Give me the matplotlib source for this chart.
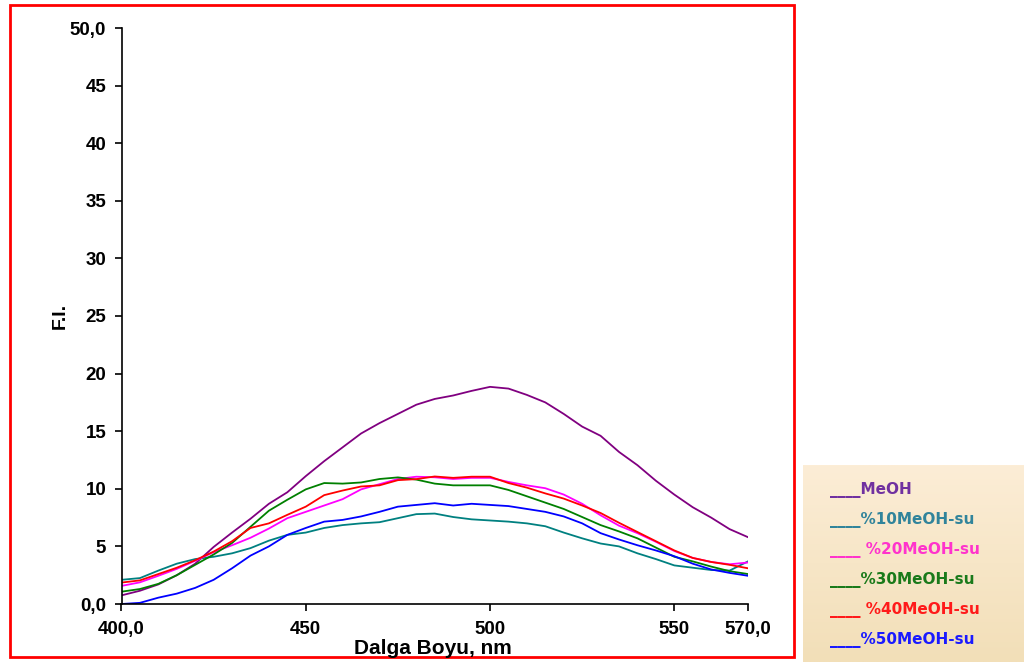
import numpy as np
import matplotlib
matplotlib.use("Agg")
import matplotlib.pyplot as plt
from matplotlib.patches import Rectangle

# Wavelength grid (nm)
wavelength = list(range(400, 571, 5))

meoh = [0.75, 1.15, 1.7, 2.5, 3.5, 4.95, 6.2, 7.4, 8.7, 9.7, 11.1, 12.4, 13.6, 14.8,
        15.7, 16.5, 17.3, 17.8, 18.1, 18.5, 18.85, 18.7, 18.15, 17.5, 16.5, 15.4,
        14.6, 13.2, 12.05, 10.7, 9.5, 8.4, 7.5, 6.5, 5.8]
meoh_su10 = [2.1, 2.25, 2.9, 3.5, 3.9, 4.1, 4.4, 4.85, 5.5, 6.0, 6.2, 6.6, 6.85, 7.0,
             7.1, 7.45, 7.8, 7.85, 7.55, 7.35, 7.25, 7.15, 7.0, 6.75, 6.2, 5.7,
             5.25, 5.0, 4.4, 3.9, 3.35, 3.15, 2.95, 2.9, 3.7]
meoh_su20 = [1.57, 1.88, 2.45, 3.05, 3.75, 4.5, 5.1, 5.75, 6.55, 7.45, 8.0, 8.55, 9.1,
             9.95, 10.4, 10.85, 11.05, 11.0, 10.85, 10.95, 10.95, 10.6, 10.3, 10.05,
             9.5, 8.7, 7.7, 6.8, 6.15, 5.4, 4.6, 4.0, 3.65, 3.45, 3.6]
meoh_su30 = [1.07, 1.3, 1.75, 2.5, 3.4, 4.3, 5.3, 6.7, 8.1, 9.05, 9.95, 10.5, 10.45,
             10.55, 10.85, 10.99, 10.8, 10.45, 10.3, 10.3, 10.3, 9.9, 9.35, 8.8,
             8.25, 7.55, 6.85, 6.3, 5.7, 4.9, 4.1, 3.7, 3.25, 2.85, 2.6]
meoh_su40 = [1.86, 2.05, 2.6, 3.15, 3.8, 4.55, 5.45, 6.6, 7.0, 7.74, 8.45, 9.45, 9.85,
             10.2, 10.3, 10.75, 10.84, 11.07, 10.95, 11.05, 11.05, 10.5, 10.1, 9.6,
             9.15, 8.55, 7.9, 7.05, 6.25, 5.45, 4.65, 4.0, 3.65, 3.4, 3.1]
meoh_su50 = [0.0, 0.1, 0.55, 0.9, 1.4, 2.1, 3.1, 4.2, 5.0, 6.0, 6.6, 7.15, 7.3, 7.6,
             8.0, 8.45, 8.6, 8.75, 8.55, 8.7, 8.6, 8.5, 8.25, 8.0, 7.6, 7.0, 6.15,
             5.6, 5.1, 4.65, 4.15, 3.5, 3.0, 2.7, 2.45]

series_labels = ["MeOH", "%10MeOH-su", "%20MeOH-su", "%30MeOH-su", "%40MeOH-su", "%50MeOH-su"]
series_values = [meoh, meoh_su10, meoh_su20, meoh_su30, meoh_su40, meoh_su50]
line_colors = ["#800080", "#008080", "#ff00ff", "#008000", "#ff0000", "#0000ff"]
label_colors = ["#7030a0", "#31849b", "#ff33cc", "#1a7a1a", "#ff1a1a", "#1a1aff"]

x_ticks = [400, 450, 500, 550, 570]
x_tick_labels = ["400,0", "450", "500", "550", "570,0"]
y_ticks = list(range(0, 51, 5))
y_tick_labels = ["0,0", "5", "10", "15", "20", "25", "30", "35", "40", "45", "50,0"]

W, H = 1024, 662
fig = plt.figure(figsize=(W / 100, H / 100), dpi=100)
fig.patch.set_facecolor("white")

def fx(px):
    return px / W

def fy(py):
    return 1 - py / H

ax = fig.add_axes([fx(121.5), fy(604), fx(748) - fx(121.5), fy(28) - fy(604)])
ax.set_facecolor("none")

for vals, col in zip(series_values, line_colors):
    ax.plot(wavelength, vals, color=col, lw=1.3, solid_joinstyle="round")

ax.set_xlim(400, 570)
ax.set_ylim(0, 50)
for s in ["top", "right"]:
    ax.spines[s].set_visible(False)
for s in ["left", "bottom"]:
    ax.spines[s].set_color("black")
    ax.spines[s].set_linewidth(1.2)

tick_font = dict(family="Liberation Sans", weight="bold", size=13.5)
ax.set_xticks(x_ticks)
ax.set_xticklabels(x_tick_labels, fontdict=tick_font)
ax.set_yticks(y_ticks)
ax.set_yticklabels(y_tick_labels, fontdict=tick_font)
ax.tick_params(axis="both", direction="out", length=5, width=1.2, color="black")
ax.tick_params(axis="x", pad=7)
ax.tick_params(axis="y", pad=6)

fig.text(fx(433), fy(648), "Dalga Boyu, nm", ha="center", va="center",
         family="Liberation Sans", weight="bold", size=15)
fig.text(fx(60), fy(316), "F.I.", ha="center", va="center", rotation=90,
         family="Liberation Sans", weight="bold", size=14)

# red outer frame around the chart area
fig.patches.append(Rectangle((fx(10), fy(657)), fx(794) - fx(10), fy(5) - fy(657),
                             transform=fig.transFigure, fill=False,
                             edgecolor="#ff0000", lw=2.0))

# legend panel with a soft beige gradient
lax = fig.add_axes([fx(803), fy(662), fx(1024) - fx(803), fy(465) - fy(662)])
top = np.array(matplotlib.colors.to_rgb("#fcedd6"))
bot = np.array(matplotlib.colors.to_rgb("#f2dfb8"))
t = np.linspace(0, 1, 100)[:, None]
grad = (top * (1 - t) + bot * t)[:, None, :].repeat(2, axis=1)
lax.imshow(grad, aspect="auto", extent=[0, 1, 0, 1], origin="upper")
lax.set_xlim(0, 1)
lax.set_ylim(0, 1)
lax.axis("off")

legend_y = [490, 520, 550, 580, 610, 640]
for lab, col, tcol, py in zip(series_labels, line_colors, label_colors, legend_y):
    pad = " " if lab in ("%20MeOH-su", "%40MeOH-su") else ""
    fig.text(fx(830), fy(py), "____" + pad + lab, ha="left", va="center",
             color=tcol, family="DejaVu Sans", weight="bold", size=11)

fig.savefig("out.png", dpi=100)
